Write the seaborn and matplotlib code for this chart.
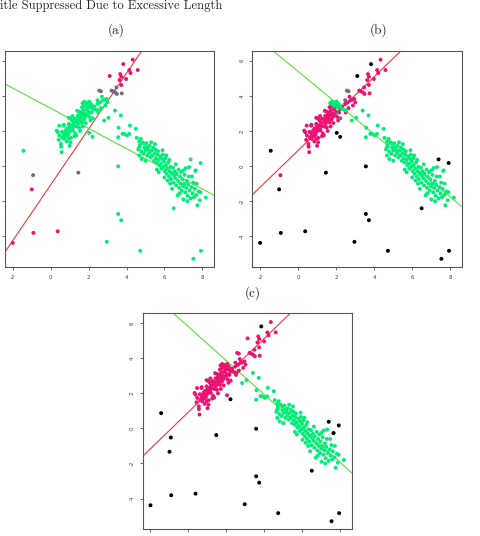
import numpy as np
import pandas as pd
import matplotlib
matplotlib.use("Agg")
import matplotlib.pyplot as plt
import seaborn as sns

# rising cluster, lower dense arm
lower_x = [0.32, 0.37, 0.42, 0.46, 0.54, 0.58, 0.62, 0.66, 0.70, 0.72, 0.76, 0.80, 0.82, 0.86, 0.88,
           0.92, 0.95, 0.98, 1.00, 1.04, 1.06, 1.10, 1.12, 1.15, 1.18, 1.20, 1.24, 1.26, 1.30, 1.33,
           1.36, 1.40, 1.42, 1.45, 1.48, 1.50, 1.54, 1.56, 1.60, 1.62, 1.66, 1.70, 1.72, 1.76, 1.80,
           1.84, 1.88, 1.92, 1.96, 2.00, 2.05, 2.10, 2.15, 2.22, 0.95, 1.05, 1.35, 1.50, 1.75, 0.68,
           2.95, 2.82, 2.74, 3.00, 2.47, 2.60,
           0.45, 0.55, 0.70, 0.85, 0.95, 1.05, 1.15, 1.25, 1.40, 1.55, 1.65, 1.85, 1.95, 2.10,
           2.30, 0.60, 1.00, 1.70, 2.50, 2.65, 2.70, 2.88]
lower_y = [2.02, 1.93, 1.49, 1.74, 1.26, 0.79, 1.62, 1.90, 1.72, 1.55, 1.84, 2.05, 1.70, 1.88, 2.15,
           1.78, 2.40, 1.96, 2.22, 2.05, 1.60, 2.32, 2.60, 2.18, 2.02, 2.45, 2.30, 2.70, 1.85, 2.52,
           2.25, 2.62, 2.85, 2.42, 2.70, 2.20, 2.92, 2.58, 2.75, 3.05, 2.48, 2.88, 3.18, 2.66, 3.00,
           2.82, 3.22, 2.95, 3.35, 3.10, 2.80, 3.40, 3.05, 3.25, 1.55, 2.70, 1.75, 3.10, 3.40, 2.30,
           3.82, 3.77, 3.73, 3.63, 3.54, 3.62,
           2.30, 1.10, 2.35, 1.40, 2.75, 1.35, 2.85, 1.70, 3.15, 2.00, 3.35, 2.45, 3.50, 2.60,
           3.40, 1.95, 1.15, 2.25, 3.05, 3.30, 3.95, 3.45]

# small knot where the two lines cross
knot_x = [1.68, 1.77, 1.91, 2.03, 2.12, 1.95, 2.21, 2.30, 2.42, 2.53, 1.82, 2.07]
knot_y = [3.58, 3.67, 3.61, 3.67, 3.54, 3.44, 3.39, 3.25, 3.20, 3.16, 3.50, 3.35]

blend_x = [2.04, 2.22, 2.47]
blend_y = [3.05, 2.72, 3.75]
crest_x = [2.56, 2.65]
crest_y = [4.30, 4.26]
upper_x = [3.21, 3.30, 3.49, 3.75, 3.40, 3.47]
upper_y = [4.30, 4.26, 4.11, 4.14, 4.20, 4.48]
top_x = [3.67, 3.72, 3.63, 3.98, 4.15, 4.21, 4.59, 4.33, 3.72]
top_y = [5.24, 5.09, 4.90, 4.96, 5.47, 5.30, 5.47, 6.06, 4.62]

# falling cluster
fall_x = [2.82, 3.39, 3.70, 3.58, 3.79, 3.88, 4.02, 4.14, 4.18, 4.49, 3.56, 4.54, 4.75, 4.67,
          4.93, 4.67, 4.67, 5.11, 3.05,
          4.62, 4.70, 4.78, 4.85, 4.90, 4.95, 5.00, 5.05, 5.10, 5.15, 5.20, 5.22, 5.28, 5.32,
          5.37, 5.40, 5.45, 5.48, 5.52, 5.55, 5.60, 5.62, 5.66, 5.70, 5.74, 5.78, 5.81, 5.85,
          5.88, 5.92, 5.95, 5.98, 6.02, 6.05, 6.08, 6.12, 6.15, 6.16, 6.20, 6.24, 6.28, 6.32,
          6.35, 6.38, 6.42, 6.45, 6.48, 6.52, 6.55, 6.58, 6.62, 6.65, 6.70, 6.72, 6.75, 6.78,
          6.82, 6.85, 6.88, 6.92, 6.95, 6.98, 7.04, 7.06, 7.10, 7.12, 7.15, 7.18, 7.22, 7.25,
          7.28, 7.30, 7.32, 7.38, 7.42, 7.48, 7.52, 7.56, 7.60, 7.65, 7.68, 7.74, 7.80, 7.86,
          8.18, 6.00, 5.70,
          5.00, 5.30, 5.60, 5.90, 6.10, 6.30, 6.60, 6.80, 7.00, 7.20, 7.45, 7.70, 7.90, 6.40,
          5.50, 4.80, 7.00, 6.25]
fall_y = [2.59, 3.16, 2.88, 2.18, 1.84, 1.83, 1.74, 1.83, 2.31, 2.12, 1.64, 1.61, 1.55, 1.40,
          1.27, 1.08, 0.60, 1.08, 2.75,
          0.95, 1.20, 0.82, 1.35, 0.70, 1.05, 0.88, 1.30, 0.60, 0.95, 0.75, 1.15, 0.50, 0.88,
          0.60, 1.05, 0.30, 0.72, 0.95, 0.45, 0.20, 0.65, 0.85, 0.35, 0.05, 0.55, 0.13, -0.15,
          0.40, 0.65, -0.05, 0.25, -0.30, 0.45, 0.05, -0.45, -0.15, -0.82, 0.20, -0.60, -0.30, -0.05,
          -0.75, -0.40, -0.44, -0.10, -0.95, -0.55, -0.30, -0.70, -1.10, -0.45, -1.67, -0.85, -0.20, -1.25,
          -0.60, -1.00, -0.35, -1.40, -0.75, -1.15, -1.01, -0.50, -1.50, -0.12, -1.25, -0.85, -1.70, -1.05,
          -0.60, -0.06, -1.40, -1.85, -1.20, -1.55, -0.95, -1.77, -1.30, -0.25, -1.65, -2.24, -1.45, -1.95,
          -1.80, -0.65, -0.35,
          0.30, 1.35, -0.20, 0.90, 0.60, -1.00, 0.10, -1.55, -0.25, -2.00, -0.60, -1.00, -1.50, -1.30,
          1.25, 0.40, -1.90, 0.35]

# scattered points away from both lines
out_x = [-2.00, -1.44, -1.00, -0.93, -0.91, 0.37, 1.46, 2.03, 2.21, 2.96, 3.11, 3.56, 3.56,
         3.72, 3.83, 4.72, 6.49, 7.38, 7.53, 7.63, 7.91, 7.93]
out_y = [-4.38, 0.87, -1.33, -0.52, -3.81, -3.72, -0.38, 1.89, 1.66, -4.32, 5.13, -0.02, -2.73,
         -3.09, 5.81, -4.83, -2.41, 0.38, -5.29, -0.27, 0.17, -4.83]
out_a = ["p", "g", "p", "m", "p", "p", "m", "g", "g", "g", "p", "g", "g",
         "g", "p", "g", "g", "g", "g", "g", "g", "g"]
out_b = ["k", "k", "k", "p", "k", "k", "k", "k", "k", "k", "k", "k", "k",
         "k", "k", "k", "k", "k", "k", "g", "k", "k"]
out_c = ["k", "k", "k", "k", "k", "k", "k", "p", "k", "k", "p", "k", "k",
         "k", "k", "k", "k", "k", "k", "k", "k", "k"]

# fitted lines (intercept, slope) per panel
red_line = {"a": (-1.07, 1.59), "b": (0.89, 1.05), "c": (0.94, 1.05)}
green_line = {"a": (3.29, -0.575), "b": (5.39, -0.895), "c": (5.79, -0.968)}

group_class = {
    "a": {"lower": "g", "knot": "g", "blend": "g", "crest": "m", "upper": "m", "top": "p", "fall": "g"},
    "b": {"lower": "p", "knot": "g", "blend": "m", "crest": "m", "upper": "p", "top": "p", "fall": "g"},
    "c": {"lower": "p", "knot": "p", "blend": "p", "crest": "p", "upper": "p", "top": "p", "fall": "g"},
}
out_class = {"a": out_a, "b": out_b, "c": out_c}

x_ticks = [-2, 0, 2, 4, 6, 8]
y_ticks = [-4, -2, 0, 2, 4, 6]
xlim = (-2.41, 8.59)
ylim = (-5.75, 6.56)

palette = {"p": "#EE1270", "g": "#00EE78", "m": "#77687A", "k": "#000000"}

parts = [("lower", lower_x, lower_y), ("knot", knot_x, knot_y), ("blend", blend_x, blend_y),
         ("crest", crest_x, crest_y), ("upper", upper_x, upper_y), ("top", top_x, top_y),
         ("fall", fall_x, fall_y)]
df = pd.concat([pd.DataFrame({"x": px, "y": py, "group": name}) for name, px, py in parts],
               ignore_index=True)
outs = pd.DataFrame({"x": out_x, "y": out_y, "group": "out"})

sns.set_style("white")
plt.rcParams["axes.unicode_minus"] = False

fig = plt.figure(figsize=(4.8, 5.36), dpi=100)
rects = {"a": [0.0104, 0.5020, 0.4345, 0.4030],
         "b": [0.5256, 0.5020, 0.4360, 0.4030],
         "c": [0.2973, 0.0125, 0.4354, 0.4030]}

for key in ["a", "b", "c"]:
    ax = fig.add_axes(rects[key])
    d = df.copy()
    d["cls"] = d["group"].map(group_class[key])
    o = outs.copy()
    o["cls"] = out_class[key]
    d = pd.concat([d, o], ignore_index=True)
    sns.scatterplot(data=d, x="x", y="y", hue="cls", palette=palette, s=8, linewidth=0,
                    legend=False, ax=ax, zorder=3)
    b0, m0 = red_line[key]
    ax.axline((0, b0), slope=m0, color="#F03838", lw=0.8, zorder=2)
    b1, m1 = green_line[key]
    ax.axline((0, b1), slope=m1, color="#5FE03A", lw=0.8, zorder=2)
    ax.set_xlim(xlim)
    ax.set_ylim(ylim)
    ax.set_xticks(x_ticks)
    ax.set_yticks(y_ticks)
    ax.set_xlabel("")
    ax.set_ylabel("")
    for s in ax.spines.values():
        s.set_color("#555555")
        s.set_linewidth(0.8)
    ax.tick_params(axis="both", direction="out", length=2.5, width=0.6, color="#555555",
                   labelsize=4, labelcolor="#444444", pad=3, left=True, bottom=True)
    for lab in ax.get_yticklabels():
        lab.set_rotation(90)
        lab.set_va("center")
    if key == "a":
        ax.tick_params(axis="y", labelleft=False)
    if key == "c":
        ax.tick_params(axis="x", labelbottom=False)

fig.text(0.0, 1 - 9 / 536, "itle Suppressed Due to Excessive Length",
         family="cmr10", fontsize=9, va="baseline", ha="left")
fig.text(116 / 480, 1 - 30 / 536, "(a)", family="cmr10", fontsize=9.5, ha="center", va="center")
fig.text(379 / 480, 1 - 30 / 536, "(b)", family="cmr10", fontsize=9.5, ha="center", va="center")
fig.text(253 / 480, 1 - 293 / 536, "(c)", family="cmr10", fontsize=9.5, ha="center", va="center")

fig.savefig("out.png", dpi=100)
